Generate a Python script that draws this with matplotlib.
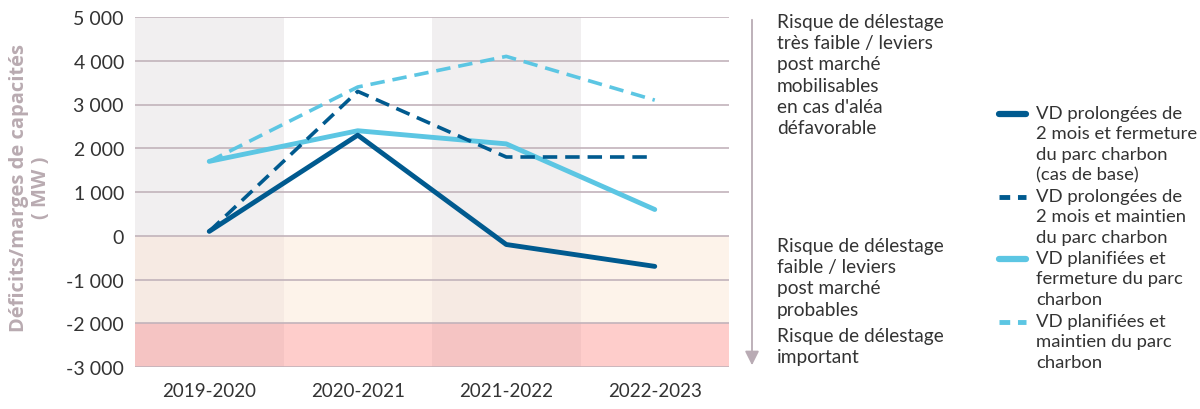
import matplotlib
matplotlib.use("Agg")
import matplotlib.pyplot as plt
from matplotlib.lines import Line2D
from matplotlib.patches import FancyArrowPatch

plt.rcParams['font.family'] = ['Lato', 'DejaVu Sans']

categories = ["2019-2020", "2020-2021", "2021-2022", "2022-2023"]
vd_prol_fermeture = [100, 2300, -200, -700]
vd_prol_maintien = [100, 3300, 1800, 1800]
vd_plan_fermeture = [1700, 2400, 2100, 600]
vd_plan_maintien = [1700, 3400, 4100, 3100]
yticks = [5000, 4000, 3000, 2000, 1000, 0, -1000, -2000, -3000]
ytick_labels = ["5 000", "4 000", "3 000", "2 000", "1 000", "0", "-1 000", "-2 000", "-3 000"]
legend_labels = [
    "VD prolongées de\n2 mois et fermeture\ndu parc charbon\n(cas de base)",
    "VD prolongées de\n2 mois et maintien\ndu parc charbon",
    "VD planifiées et\nfermeture du parc\ncharbon",
    "VD planifiées et\nmaintien du parc\ncharbon",
]
zone_labels = [
    "Risque de délestage\ntrès faible / leviers\npost marché\nmobilisables\nen cas d'aléa\ndéfavorable",
    "Risque de délestage\nfaible / leviers\npost marché\nprobables",
    "Risque de délestage\nimportant",
]

dark = "#005a8f"
light = "#5cc6e3"
grid_c = "#c2b3bb"
txt = "#333333"

W, H = 1200, 410
fig = plt.figure(figsize=(12, 4.1), dpi=100)
ax = fig.add_axes([135 / W, 1 - 368 / H, (729 - 135) / W, (368 - 18) / H])

x = list(range(len(categories)))
ax.set_xlim(-0.5, len(categories) - 0.5)
ax.set_ylim(-3000, 5000)

for i in x:
    gray = (i % 2 == 0)
    if gray:
        ax.fill_between([i - 0.5, i + 0.5], 0, 5000, color="#f1eff0", lw=0, zorder=0)
    ax.fill_between([i - 0.5, i + 0.5], -2000, 0, color="#f6eae3" if gray else "#fdf3ea", lw=0, zorder=0)
    ax.fill_between([i - 0.5, i + 0.5], -3000, -2000, color="#f5c4c3" if gray else "#fecdcb", lw=0, zorder=0)

for y in yticks:
    ax.axhline(y, color=grid_c, lw=1.2, zorder=1)

lw = 3.5
ax.plot(x, vd_plan_maintien, color=light, lw=2.6, ls=(0, (4, 2.2)), zorder=3)
ax.plot(x, vd_plan_fermeture, color=light, lw=lw, solid_capstyle="round", zorder=3)
ax.plot(x, vd_prol_maintien, color=dark, lw=2.6, ls=(0, (4, 2.2)), zorder=4)
ax.plot(x, vd_prol_fermeture, color=dark, lw=lw, solid_capstyle="round", zorder=5)

ax.set_yticks(yticks)
ax.set_yticklabels(ytick_labels, fontsize=14, color=txt)
ax.set_xticks(x)
ax.set_xticklabels(categories, fontsize=13.5, color=txt)
ax.tick_params(length=0, pad=8)
ax.tick_params(axis="x", pad=11)
for s in ax.spines.values():
    s.set_visible(False)

fig.text(30 / W, 1 - 188 / H, "Déficits/marges de capacités\n( MW )", rotation=90,
         ha="center", va="center", fontsize=14.5, fontweight="bold", color="#b9abb1",
         linespacing=1.1, family=["Open Sans", "DejaVu Sans"], multialignment="center")

fig.add_artist(FancyArrowPatch(
    (752 / W, 1 - 18 / H), (752 / W, 1 - 369 / H), transform=fig.transFigure,
    arrowstyle="-|>,head_length=0.6,head_width=0.3", mutation_scale=14,
    color="#b9abb4", lw=1.3))

fs = 13.8
ls_ = 1.3
fig.text(777 / W, 1 - 14 / H, zone_labels[0], ha="left", va="top", fontsize=fs, color=txt, linespacing=ls_)
fig.text(777 / W, 1 - 238 / H, zone_labels[1], ha="left", va="top", fontsize=fs, color=txt, linespacing=ls_)
fig.text(777 / W, 1 - 328 / H, zone_labels[2], ha="left", va="top", fontsize=fs, color=txt, linespacing=ls_)

styles = [
    dict(color=dark, lw=4.5, solid_capstyle="round"),
    dict(color=dark, lw=3.5, ls=(0, (2.2, 1.6))),
    dict(color=light, lw=4.5, solid_capstyle="round"),
    dict(color=light, lw=3.5, ls=(0, (2.2, 1.6))),
]
tops = [106, 189, 251, 314]
fsl = 13.3
for lab, st, top in zip(legend_labels, styles, tops):
    yc = 1 - (top + 9) / H
    fig.add_artist(Line2D([999 / W, 1026 / W], [yc, yc], transform=fig.transFigure, **st))
    fig.text(1036 / W, 1 - top / H, lab, ha="left", va="top", fontsize=fsl, color=txt, linespacing=1.33)

fig.savefig("out.png", dpi=100)
